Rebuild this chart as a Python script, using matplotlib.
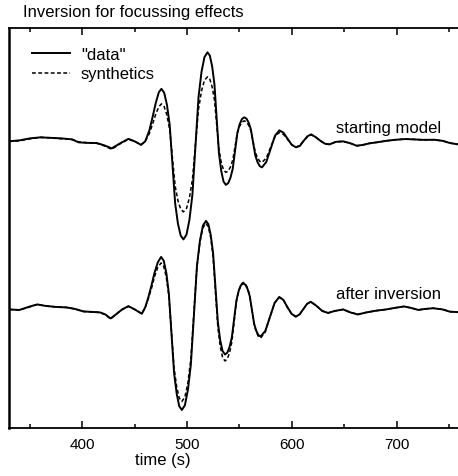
import numpy as np
import matplotlib
matplotlib.use("Agg")
import matplotlib.pyplot as plt

plt.rcParams['font.family'] = ['Liberation Sans', 'DejaVu Sans']

# time samples (s) and trace amplitudes
t_top = [330, 340, 350, 360, 370, 380, 390, 396.5, 405, 414,
         421, 428, 436, 444, 450, 456, 460, 464, 467, 470,
         473, 475.5, 478.1, 480.75, 483.4, 486, 488.6, 491.25, 493.9, 496.5,
         499.4, 502.25, 505.1, 508, 510.9, 513.75, 516.6, 519.5, 521.7, 523.9,
         526.1, 528.25, 530.4, 532.6, 534.8, 537, 539.2, 541.4, 543.6, 545.75,
         547.9, 550.1, 552.3, 554.5, 556.6, 558.75, 560.9, 563, 565.1, 567.25,
         569.4, 571.5, 575.6, 579.75, 583.9, 588, 592, 596, 600, 604,
         607.6, 611.25, 614.9, 618.5, 623, 628, 632, 636, 642, 649,
         656, 662, 668, 674, 681, 690, 698, 708, 716, 725,
         736, 744, 751, 758.6]
data_top = [0, 1, 3, 4, 3.5, 3, 2, -1, -1.5, -1.7,
            -4, -7, -2, 2.5, 0, -3.5, 0, 11, 24, 38,
            49, 52.5, 48.7, 36.7, 16.4, -22.8, -61.9, -82.2, -94.2, -98,
            -93.3, -78.4, -53.1, -4.5, 44.1, 69.4, 84.3, 89, 85.7, 75.1,
            57.2, 22.8, -11.7, -29.6, -40.2, -43.5, -41.8, -36.4, -27.3, -9.8,
            7.8, 16.9, 22.3, 24, 22.8, 18.8, 12, -1, -14, -20.8,
            -24.8, -26, -20.6, -7.5, 5.6, 11, 8.7, 2.5, -3.6, -6,
            -4.6, 0.5, 5.1, 7, 4, 0, -2.5, -3, -0.5, 0,
            -2, -4.4, -3.5, -2, -1, 0.5, 1.5, 2.3, 2, 1.5,
            1.6, 0.5, -1.7, -3]
synth_top = [0, 0.5, 2.5, 4, 3.5, 2.5, 2, -0.5, -1.5, -2,
             -4.5, -8, -2.5, 2, 0, -3.5, 0, 8, 17, 27,
             34.5, 37.5, 34.8, 26.2, 11.6, -16.5, -44.6, -59.2, -67.8, -70.5,
             -67.1, -56.3, -38.1, -3, 32.1, 50.3, 61.1, 64.5, 62.1, 54.5,
             41.6, 16.8, -8.1, -21, -28.6, -31, -29.7, -25.6, -18.6, -5.3,
             8.1, 15.1, 19.2, 20.5, 19.5, 16.1, 10.5, -0.3, -11, -16.6,
             -20, -21, -16.6, -6, 4.6, 9, 6.9, 1.8, -3.4, -5.5,
             -4.2, 0.5, 4.5, 6.5, 4, 0, -2.5, -3, -0.5, 0,
             -2, -4.4, -3.5, -2, -1, 0.5, 1.5, 2.3, 2, 1.5,
             1.6, 0.5, -1.7, -3]

t_bot = [330, 340, 350, 357, 365, 375, 385, 393, 401, 410,
         417, 422, 427, 432, 438, 444, 450, 456.8, 460, 463,
         466, 469, 472, 475.2, 477.7, 480.2, 482.6, 485.1, 487.6, 490.1,
         492.5, 495, 497.9, 500.75, 503.6, 506.5, 509.4, 512.25, 515.1, 518,
         520.3, 522.55, 524.8, 527.1, 529.4, 531.65, 533.9, 536.2, 538.4, 540.55,
         542.7, 544.9, 547.1, 549.25, 551.4, 553.6, 555.7, 557.75, 559.8, 561.9,
         564, 566.05, 568.1, 570.2, 574.65, 579.1, 583.55, 588, 591.95, 595.9,
         599.85, 603.8, 607.35, 610.9, 614.45, 618, 623, 629, 634.6, 641,
         649, 656, 663, 671, 680.7, 690, 698, 707, 714, 720.6,
         727, 735, 744, 750.8, 758.6]
data_bot = [0, -0.5, 3, 5, 3.5, 2.5, 2, 0.5, -2, -2.5,
            -3, -5, -9, -5, 0, 3.3, 0, -4.3, 2, 12,
            24, 37, 47, 52.5, 48.7, 36.4, 15.8, -24, -63.8, -84.4,
            -96.7, -100.5, -95.8, -80.7, -55.1, -6, 43.1, 68.7, 83.8, 88.5,
            85.2, 74.5, 56.5, 21.8, -13, -31, -41.7, -45, -43.2, -37.5,
            -28, -9.5, 9, 18.5, 24.2, 26, 24.7, 20.4, 13.3, -0.5,
            -14.3, -21.4, -25.7, -27, -21.5, -7.5, 6.5, 12.5, 9.5, 2,
            -4.5, -7.2, -5, 0.2, 5.5, 7.7, 4, -1.5, -3.5, -1.5,
            0, -3, -5, -3, -1.2, 0, 1.5, 3, 1.5, -0.5,
            0.5, 1.2, 0, -2.2, -2.7]
synth_bot = [0, -0.5, 2.5, 5, 3.5, 2.5, 2, 0.5, -2, -2.5,
             -3, -5.5, -9.5, -5, 0, 3, 0, -4.3, 2, 11,
             21, 33, 42, 46.5, 43, 31.9, 13.3, -22.8, -58.8, -77.5,
             -88.5, -92, -87.6, -73.3, -49.3, -3, 43.3, 67.3, 81.6, 86,
             82.6, 71.6, 53, 17.3, -18.5, -37.1, -48.1, -51.5, -49.5, -43.3,
             -32.7, -12.3, 8.2, 18.8, 25, 27, 25.6, 21.2, 13.7, -0.8,
             -15.2, -22.7, -27.1, -28.5, -22.5, -7.5, 6.5, 12, 9.5, 2,
             -4.5, -7.2, -5, 0.2, 5.5, 7.5, 4, -1.5, -3.5, -1.5,
             0, -3, -5, -3, -1.2, 0, 1.5, 3, 1.5, -0.5,
             0.5, 1.2, 0, -2.2, -2.7]

top_shift = 168

fig = plt.figure(figsize=(4.58, 4.77), dpi=100)
ax = fig.add_axes([9/458, 48.5/477, 449/458, 399.2/477])

dash = (0, (2.5, 1.6))
ax.plot(t_top, np.array(data_top) + top_shift, color='black', lw=1.4, label='"data"')
ax.plot(t_top, np.array(synth_top) + top_shift, color='black', lw=1.1, ls=dash, label='synthetics')
ax.plot(t_bot, data_bot, color='black', lw=1.4)
ax.plot(t_bot, synth_bot, color='black', lw=1.1, ls=dash)

ax.set_xlim(330, 758.6)
ax.set_ylim(-118, 281)
ax.set_yticks([])
ax.set_xticks([400, 500, 600, 700])
ax.set_xticks([350, 450, 550, 650, 750], minor=True)
ax.tick_params(axis='x', which='both', direction='in', top=True, bottom=True,
               labelsize=11, pad=6.5, width=1.1)
ax.tick_params(axis='x', which='major', length=5)
ax.tick_params(axis='x', which='minor', length=3)
ax.spines['right'].set_visible(False)
ax.spines['left'].set_linewidth(1.8)
ax.spines['bottom'].set_linewidth(1.3)
ax.spines['top'].set_linewidth(1.3)

ax.set_xlabel('time (s)', fontsize=12)
ax.xaxis.set_label_coords(0.343, -0.062)

ax.text(642.5, 182, 'starting model', fontsize=12, va='center', ha='left')
ax.text(642.5, 15.5, 'after inversion', fontsize=12, va='center', ha='left')

fig.text(23/458, 1 - 13/477, 'Inversion for focussing effects', fontsize=12,
         ha='left', va='center')

ax.legend(loc='upper left', bbox_to_anchor=(31.7/458, 1 - 47.5/477),
          bbox_transform=fig.transFigure, frameon=False, fontsize=12,
          handlelength=2.3, handletextpad=0.66, labelspacing=0.29,
          borderpad=0, borderaxespad=0)

fig.savefig('out.png', dpi=100)
